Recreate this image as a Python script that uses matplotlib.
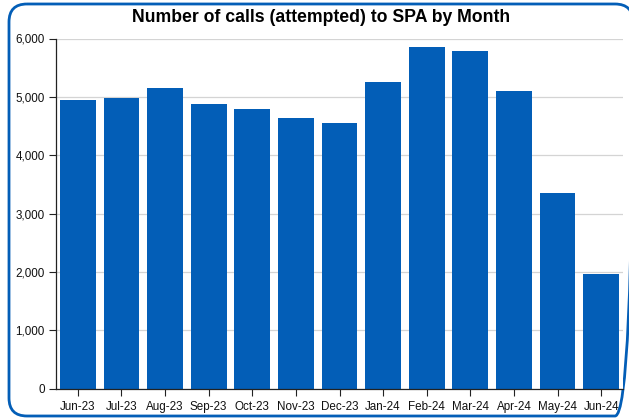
import matplotlib
matplotlib.use("Agg")
from matplotlib import pyplot as plt
from matplotlib.path import Path
from matplotlib.patches import PathPatch
from matplotlib.ticker import FuncFormatter

# Appels (tentés) vers SPA par mois
mois = ["Jun-23", "Jul-23", "Aug-23", "Sep-23", "Oct-23", "Nov-23", "Dec-23",
        "Jan-24", "Feb-24", "Mar-24", "Apr-24", "May-24", "Jun-24"]
appels = [4940, 4975, 5145, 4870, 4785, 4630, 4560,
          5250, 5850, 5780, 5100, 3345, 1970]
graduations_y = [0, 1000, 2000, 3000, 4000, 5000, 6000]

BLEU = "#035eb7"

plt.rcParams["font.family"] = ["Liberation Sans", "DejaVu Sans"]

W, H = 629, 418
fig = plt.figure(figsize=(W / 100, H / 100), dpi=100)

# fond en pixels pour le cadre arrondi (bord droit hors image)
fond = fig.add_axes([0, 0, 1, 1])
fond.set_xlim(0, W)
fond.set_ylim(H, 0)
fond.axis("off")
g, d, h, b, r = 9, 633, 4, 416, 18
sommets = [(g + r, h), (d - r, h), (d, h), (d, h + r), (d, b - r), (d, b), (d - r, b),
           (g + r, b), (g, b), (g, b - r), (g, h + r), (g, h), (g + r, h)]
codes = [Path.MOVETO, Path.LINETO, Path.CURVE3, Path.CURVE3, Path.LINETO,
         Path.CURVE3, Path.CURVE3, Path.LINETO, Path.CURVE3, Path.CURVE3,
         Path.LINETO, Path.CURVE3, Path.CURVE3]
fond.add_patch(PathPatch(Path(sommets, codes), fill=False, edgecolor=BLEU,
                         linewidth=2, clip_on=False))

ax = fig.add_axes([56 / W, (H - 388.5) / H, (623 - 56) / W, (388.5 - 38.5) / H])

positions = range(len(mois))
ax.bar(positions, appels, width=0.82, color=BLEU, zorder=2)

ax.set_xlim(-0.5, len(mois) - 0.5)
ax.set_ylim(0, 6000)
ax.set_xticks(list(positions))
ax.set_xticklabels(mois)
ax.set_yticks(graduations_y)
ax.yaxis.set_major_formatter(FuncFormatter(lambda v, p: f"{int(v):,}"))
ax.tick_params(axis="both", labelsize=8.4, length=5, width=0.8, colors="#222222",
               labelcolor="#111111", pad=3)
ax.tick_params(axis="x", pad=4)

ax.grid(axis="y", color="#d4d4d4", linewidth=0.9, zorder=0)
ax.set_axisbelow(True)
for cote in ["top", "right"]:
    ax.spines[cote].set_visible(False)
for cote in ["left", "bottom"]:
    ax.spines[cote].set_color("#222222")
    ax.spines[cote].set_linewidth(0.9)

fig.text(321 / W, 1 - 18 / H, "Number of calls (attempted) to SPA by Month",
         ha="center", va="center", fontsize=12.7, fontweight="bold")

fig.savefig("out.png", dpi=100)
